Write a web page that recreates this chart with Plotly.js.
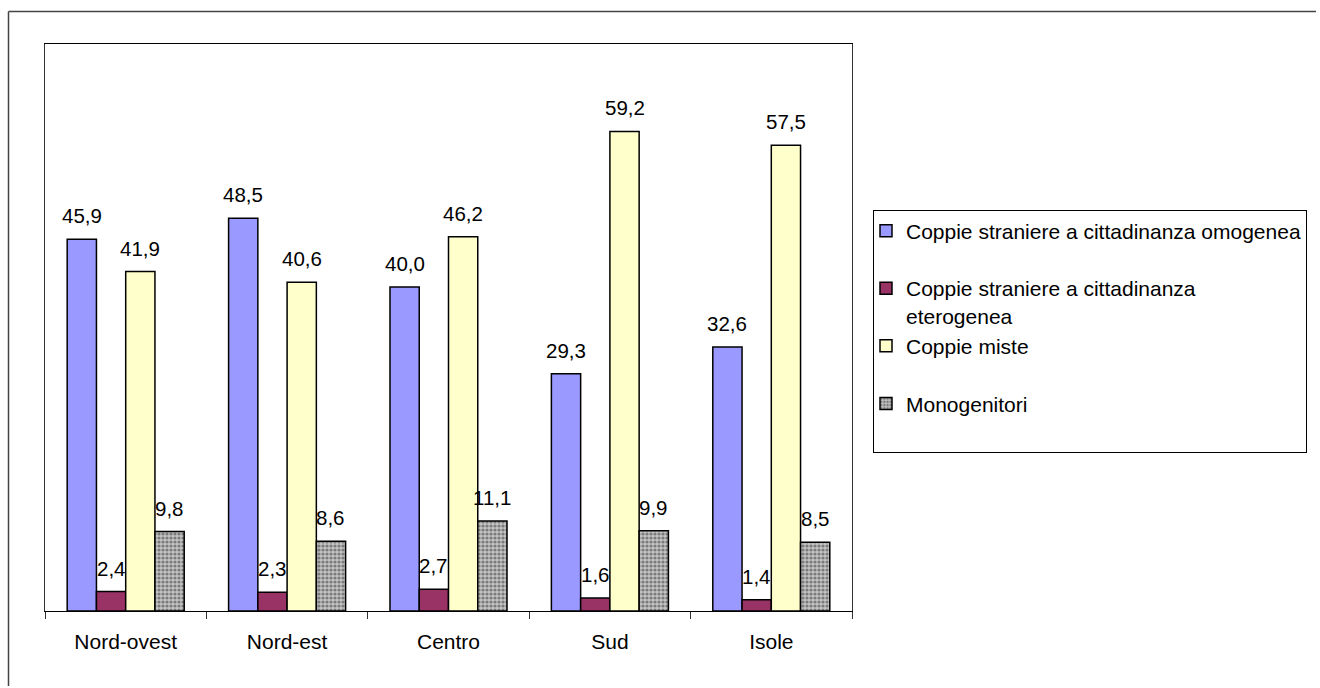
<!DOCTYPE html>
<html>
<head>
<meta charset="utf-8">
<script src="https://cdn.plot.ly/plotly-3.0.1.min.js"></script>
<style>html,body{margin:0;padding:0;background:#fff;overflow:hidden;}#chart{width:1320px;height:688px;}</style>
</head>
<body>
<div id="chart"></div>
<script>
const categories = ["Nord-ovest", "Nord-est", "Centro", "Sud", "Isole"];
const seriesNames = [
  "Coppie straniere a cittadinanza omogenea",
  "Coppie straniere a cittadinanza<br>eterogenea",
  "Coppie miste",
  "Monogenitori"
];
const omogenea = [45.9, 48.5, 40.0, 29.3, 32.6];
const eterogenea = [2.4, 2.3, 2.7, 1.6, 1.4];
const miste = [41.9, 40.6, 46.2, 59.2, 57.5];
const monogenitori = [9.8, 8.6, 11.1, 9.9, 8.5];

const seriesValues = [omogenea, eterogenea, miste, monogenitori];
const colors = ["#9999FF", "#993366", "#FFFFCC", "#B8B8B8"];
const FONT = "Liberation Sans, Arial, sans-serif";
const bargap = 0.275;
const nSeries = seriesValues.length;
const bw = (1 - bargap) / nSeries;

const traces = seriesValues.map((vals, i) => {
  const t = {
    type: "bar",
    name: seriesNames[i] + (seriesNames[i].includes("<br>") ? "" : "<br> "),
    x: categories,
    y: vals,
    marker: { color: colors[i], line: { color: "#000", width: 1.5 } },
    hoverinfo: "skip"
  };
  if (i === 3) {
    t.marker.pattern = { shape: ".", fgcolor: "#7a7a7a", bgcolor: "#c4c4c4", size: 4, solidity: 0.5 };
  }
  return t;
});

const annotations = [];
seriesValues.forEach((vals, i) => {
  vals.forEach((v, c) => {
    annotations.push({
      x: c + (i - (nSeries - 1) / 2) * bw,
      y: v,
      xref: "x", yref: "y",
      text: v.toFixed(1).replace(".", ","),
      showarrow: false,
      yanchor: "bottom",
      yshift: 10,
      font: { family: FONT, size: 20.5, color: "#000" }
    });
  });
});

const L = 45, R = 468, T = 44, B = 77;
const pw = 1320 - L - R, ph = 688 - T - B;
const px = x => (x - L) / pw;
const py = y => (688 - B - y) / ph;

const layout = {
  width: 1320, height: 688,
  margin: { l: L, r: R, t: T, b: B, pad: 0, autoexpand: false },
  paper_bgcolor: "#fff", plot_bgcolor: "#fff",
  barmode: "group", bargap: bargap, bargroupgap: 0,
  separators: ",.",
  font: { family: FONT, size: 21, color: "#000" },
  xaxis: {
    type: "category",
    showline: true, linecolor: "#000", linewidth: 1, mirror: true,
    ticks: "outside", tickson: "boundaries", ticklen: 7, tickcolor: "#333",
    ticklabelstandoff: 12,
    tickfont: { family: FONT, size: 21, color: "#000" },
    showgrid: false, zeroline: false, fixedrange: true
  },
  yaxis: {
    range: [0, 70],
    showline: true, linecolor: "#333", linewidth: 1, mirror: true,
    showticklabels: false, ticks: "", showgrid: false, zeroline: false, fixedrange: true
  },
  showlegend: true,
  legend: {
    x: px(873), y: py(209.5), xanchor: "left", yanchor: "top",
    bordercolor: "#000", borderwidth: 1, bgcolor: "#fff",
    font: { family: FONT, size: 21, color: "#000" },
    indentation: -8,
    valign: "top", traceorder: "normal", itemclick: false, itemdoubleclick: false
  },
  annotations: annotations,
  shapes: [
    { type: "line", xref: "paper", yref: "paper", x0: px(8.5), x1: px(1316), y0: py(11.5), y1: py(11.5), line: { color: "#444", width: 1.5 } },
    { type: "line", xref: "paper", yref: "paper", x0: px(8.5), x1: px(8.5), y0: py(11.5), y1: py(686), line: { color: "#444", width: 1.5 } }
  ]
};

Plotly.newPlot("chart", traces, layout, { displayModeBar: false, staticPlot: true });
</script>
</body>
</html>
